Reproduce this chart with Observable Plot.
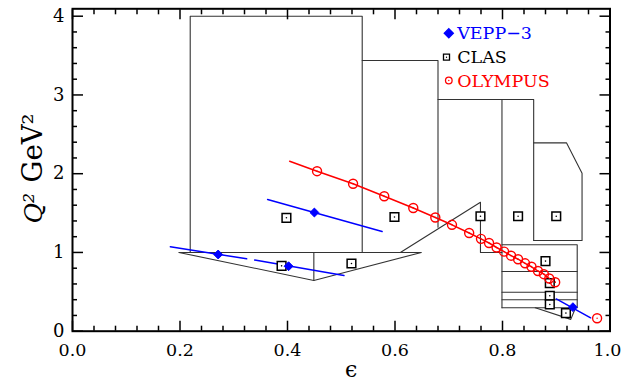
<!DOCTYPE html>
<html><head><meta charset="utf-8">
<script src="https://cdn.jsdelivr.net/npm/d3@7"></script>
<script src="https://cdn.jsdelivr.net/npm/@observablehq/plot@0.6"></script>
<style>body{margin:0;background:#fff}</style>
</head><body><div id="chart"></div>
<script>
// ---- data (epsilon, Q^2 in GeV^2) ----
const veppEps = [0.271, 0.402, 0.450, 0.931];
const veppQ2  = [0.974, 0.825, 1.507, 0.305];
const veppFit1 = [[0.182,1.072],[0.324,0.919]];
const veppFit2 = [[0.339,0.903],[0.505,0.707]];
const veppFit3 = [[0.363,1.672],[0.576,1.266]];
const veppFit4 = [[0.900,0.410],[0.964,0.170]];

const clasEps = [0.398, 0.389, 0.519, 0.599, 0.759, 0.829, 0.900, 0.880, 0.888, 0.888, 0.888, 0.918];
const clasQ2  = [1.44, 0.83, 0.86, 1.45, 1.46, 1.46, 1.46, 0.89, 0.61, 0.45, 0.34, 0.23];

const olympusEps = [0.455,0.522,0.580,0.634,0.675,0.706,0.738,0.760,0.775,0.789,0.803,0.816,0.829,0.842,0.854,0.866,0.877,0.887,0.898,0.976];
const olympusQ2  = [2.032,1.872,1.714,1.564,1.444,1.351,1.247,1.173,1.120,1.063,1.010,0.959,0.914,0.862,0.818,0.764,0.724,0.669,0.622,0.165];
const olympusCurveStart = [0.404, 2.159];

// CLAS kinematic coverage outlines
const regionA = [[0.219,1.000],[0.219,4.000],[0.539,4.000],[0.539,1.000]];
const regionB = [[0.539,3.437],[0.680,3.437],[0.680,1.320]];
const regionLow = [[0.198,1.000],[0.649,1.000],[0.449,0.644],[0.198,1.000]];
const regionLowDivider = [[0.449,1.000],[0.449,0.644]];
const regionDiagonal = [[0.610,1.000],[0.759,1.638],[0.759,1.000],[0.799,1.000]];
const regionC = [[0.680,2.942],[0.858,2.942],[0.858,1.152]];
const regionCDivider = [[0.799,2.942],[0.799,0.297]];
const regionE = [[0.858,2.392],[0.919,2.392],[0.948,2.006],[0.948,1.152],[0.858,1.152]];
const regionF = [[0.799,1.097],[0.939,1.097],[0.939,0.297],[0.799,0.297]];
const regionFRows = [0.758, 0.495, 0.399];
const regionFRowEps = [0.799, 0.939];
const regionG = [[0.861,0.297],[0.927,0.150],[0.936,0.297]];

const xMajor = [0, 0.2, 0.4, 0.6, 0.8, 1.0];
const xMinor = d3.range(0, 1.0001, 0.04).filter(v => Math.abs(v*5 - Math.round(v*5)) > 1e-6);
const yMajor = [0, 1, 2, 3, 4];
const yMinor = d3.range(0, 4.0001, 0.2).filter(v => Math.abs(v - Math.round(v)) > 1e-6);

const legendNames = ["VEPP\u22123", "CLAS", "OLYMPUS"];
const legendColors = ["#0000ff", "#000000", "#ff0000"];
const legendSymbols = ["diamond2", "square", "circle"];

// ---- build tables ----
const outlines = [];
[["A",regionA],["B",regionB],["L",regionLow],["LD",regionLowDivider],["D",regionDiagonal],
 ["C",regionC],["CD",regionCDivider],["E",regionE],["F",regionF],["G",regionG]]
  .forEach(([id, pts]) => pts.forEach(([e,q]) => outlines.push({id, eps:e, q2:q})));
regionFRows.forEach((q,i) => regionFRowEps.forEach(e => outlines.push({id:"FR"+i, eps:e, q2:q})));

const veppLines = [];
[veppFit1, veppFit2, veppFit3, veppFit4].forEach((seg,i) =>
  seg.forEach(([e,q]) => veppLines.push({id:i, eps:e, q2:q})));

const vepp = veppEps.map((e,i) => ({eps:e, q2:veppQ2[i]}));
const clas = clasEps.map((e,i) => ({eps:e, q2:clasQ2[i]}));
const olympus = olympusEps.map((e,i) => ({eps:e, q2:olympusQ2[i]}));
const olympusCurve = [{eps:olympusCurveStart[0], q2:olympusCurveStart[1]}, ...olympus.slice(0, 19)];

const FONT = "DejaVu Serif";
const tickStyle = {stroke:"black", strokeWidth:1.5, tickFormat: () => "", label: null};

const legendMarks = [];
const legendDy = [24.4, 48.4, 71.7];
const legendTextDy = [24.6, 49, 72.3];
const legendR = [4.1, 3.4, 3.3];
legendNames.forEach((name, i) => {
  legendMarks.push(Plot.dot([name], {frameAnchor:"top-left", dx: i===1 ? 374 : 376.3, dy: legendDy[i],
    symbol: legendSymbols[i], r: legendR[i],
    fill: i===0 ? legendColors[i] : "none", stroke: legendColors[i], strokeWidth: 1.3}));
  if (i > 0) legendMarks.push(Plot.dot([name], {frameAnchor:"top-left", dx: i===1 ? 374 : 376.3, dy: legendDy[i],
    r: 0.7, fill: legendColors[i], stroke: "none"}));
  legendMarks.push(Plot.text([name], {frameAnchor:"top-left", dx: 384.7, dy: legendTextDy[i],
    text: d => d, textAnchor:"start", lineAnchor:"middle", fill: legendColors[i], fontSize: 17.5, fontFamily: FONT}));
});

const chart = Plot.plot({
  width: 622, height: 381,
  marginLeft: 72, marginRight: 12.5, marginTop: 8.3, marginBottom: 50.3,
  x: {domain: [0, 1], label: null},
  y: {domain: [0, 4.094], label: null},
  style: {fontFamily: FONT, background: "white", color: "black"},
  marks: [
    Plot.line(outlines, {x:"eps", y:"q2", z:"id", stroke:"#333", strokeWidth:1.1, curve:"linear"}),
    Plot.line(veppLines, {x:"eps", y:"q2", z:"id", stroke:"#0000ff", strokeWidth:1.5}),
    Plot.line(olympusCurve, {x:"eps", y:"q2", stroke:"#ff0000", strokeWidth:1.5}),
    Plot.dot(clas, {x:"eps", y:"q2", symbol:"square", r:4.9, fill:"white", stroke:"black", strokeWidth:1.5}),
    Plot.dot(clas, {x:"eps", y:"q2", r:0.8, fill:"black", stroke:"none"}),
    Plot.dot(olympus, {x:"eps", y:"q2", r:4.5, fill:"none", stroke:"#ff0000", strokeWidth:1.4}),
    Plot.dot(olympus, {x:"eps", y:"q2", r:0.7, fill:"#ff0000", stroke:"none"}),
    Plot.dot(vepp, {x:"eps", y:"q2", symbol:"diamond2", r:4.0, fill:"#0000ff", stroke:"#0000ff", strokeWidth:1}),
    ...legendMarks,
    // axes: inward ticks on all four sides
    Plot.axisX({anchor:"bottom", ticks:xMajor, tickSize:10, dy:-10, ...tickStyle}),
    Plot.axisX({anchor:"bottom", ticks:xMinor, tickSize:5, dy:-5, ...tickStyle}),
    Plot.axisX({anchor:"top", ticks:xMajor, tickSize:10, dy:10, ...tickStyle}),
    Plot.axisX({anchor:"top", ticks:xMinor, tickSize:5, dy:5, ...tickStyle}),
    Plot.axisY({anchor:"left", ticks:yMajor, tickSize:11, dx:11, ...tickStyle}),
    Plot.axisY({anchor:"left", ticks:yMinor, tickSize:5, dx:5, ...tickStyle}),
    Plot.axisY({anchor:"right", ticks:yMajor, tickSize:11, dx:-11, ...tickStyle}),
    Plot.axisY({anchor:"right", ticks:yMinor, tickSize:5, dx:-5, ...tickStyle}),
    Plot.axisX({anchor:"bottom", ticks:xMajor.slice(0, 5), tickSize:0, tickPadding:12, tickFormat:d3.format(".1f"), fontSize:17.5, label:null}),
    Plot.axisX({anchor:"bottom", ticks:xMajor.slice(5), tickSize:0, tickPadding:12, dx:-2.5, tickFormat:d3.format(".1f"), fontSize:17.5, label:null}),
    Plot.axisY({anchor:"left", ticks:yMajor, tickSize:0, tickPadding:8, tickFormat:d3.format("d"), fontSize:18, label:null}),
    Plot.frame({stroke:"black", strokeWidth:2}),
    Plot.text(["\u03f5"], {frameAnchor:"bottom", dx:10, dy:39, text:d=>d, fontSize:22, fontFamily:FONT, lineAnchor:"middle"}),
    Plot.text(["GeV\u00b2"], {frameAnchor:"left", dx:-39, dy:12.5, rotate:-90, text:d=>d, fontSize:27.5, fontFamily:FONT, textAnchor:"start", lineAnchor:"middle"}),
    Plot.text(["Q\u00b2"], {frameAnchor:"left", dx:-39, dy:53.5, rotate:-90, text:d=>d, fontSize:25, fontFamily:FONT, fontStyle:"italic", textAnchor:"start", lineAnchor:"middle"})
  ]
});
document.getElementById("chart").appendChild(chart);
</script>
</body></html>
